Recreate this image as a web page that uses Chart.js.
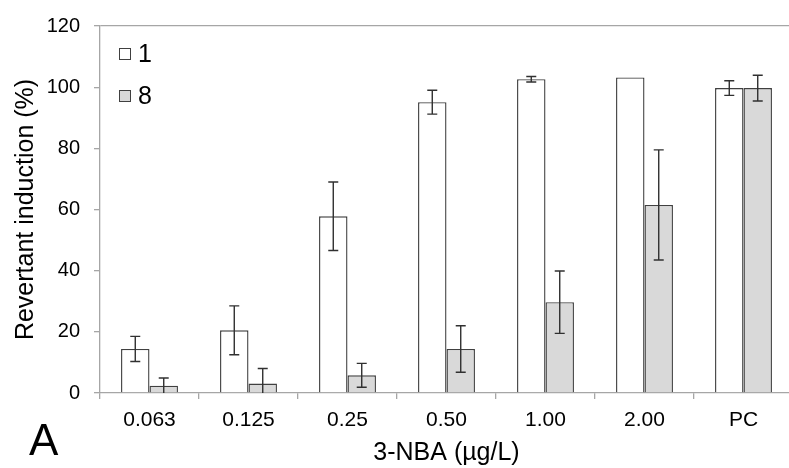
<!DOCTYPE html>
<html lang="en">
<head>
    <meta charset="UTF-8">
    <title>Revertant induction</title>
    <script src="https://cdn.jsdelivr.net/npm/chart.js"></script>
    <style>
        body {
            margin: 0;
            padding: 0;
            background-color: #ffffff;
            overflow: hidden;
        }
        #chart-box {
            width: 793px;
            height: 468px;
        }
    </style>
</head>
<body>
    <div id="chart-box">
        <canvas id="nba-chart" width="793" height="468"></canvas>
    </div>

    <script>
        // values
        const categories = ['0.063', '0.125', '0.25', '0.50', '1.00', '2.00', 'PC'];
        const seriesLabels = ['1', '8'];
        const values1 = [14.4, 20.5, 57.8, 95.1, 102.6, 103.2, 99.7];
        const errors1 = [4.1, 8.0, 11.2, 3.9, 0.9, 0, 2.4];
        const values8 = [2.4, 3.1, 5.8, 14.4, 29.7, 61.5, 99.7];
        const errors8 = [2.5, 4.9, 3.9, 7.6, 10.2, 18.0, 4.2];
        const yTicks = [0, 20, 40, 60, 80, 100, 120];

        const fontFamily = "'Liberation Sans', Arial, sans-serif";
        const axisGray = '#a6a6a6';
        const barEdge = '#404040';

        const errorBars = {
            id: 'errorBars',
            afterDatasetsDraw(chart) {
                const ctx = chart.ctx;
                const yScale = chart.scales.y;
                ctx.save();
                ctx.strokeStyle = '#303030';
                ctx.lineWidth = 1.4;
                chart.data.datasets.forEach((ds, di) => {
                    const meta = chart.getDatasetMeta(di);
                    meta.data.forEach((bar, i) => {
                        const err = ds.errors[i];
                        if (!err) return;
                        const v = ds.data[i];
                        const top = yScale.getPixelForValue(v + err);
                        const bottom = yScale.getPixelForValue(Math.max(v - err, 0));
                        ctx.beginPath();
                        ctx.moveTo(bar.x, top);
                        ctx.lineTo(bar.x, bottom);
                        ctx.moveTo(bar.x - 5, top);
                        ctx.lineTo(bar.x + 5, top);
                        if (v - err > 0) {
                            ctx.moveTo(bar.x - 5, bottom);
                            ctx.lineTo(bar.x + 5, bottom);
                        }
                        ctx.stroke();
                    });
                });
                ctx.restore();
            }
        };

        const insideLegend = {
            id: 'insideLegend',
            afterDraw(chart) {
                const ctx = chart.ctx;
                ctx.save();
                ctx.font = '25px ' + fontFamily;
                ctx.textBaseline = 'middle';
                chart.data.datasets.forEach((ds, di) => {
                    const y = 48 + di * 42;
                    ctx.fillStyle = ds.backgroundColor;
                    ctx.strokeStyle = barEdge;
                    ctx.lineWidth = 1;
                    ctx.fillRect(119.5, y + 0.5, 11, 11);
                    ctx.strokeRect(119.5, y + 0.5, 11, 11);
                    ctx.fillStyle = '#000000';
                    ctx.fillText(ds.label, 138, y + 7);
                });
                // panel letter
                ctx.font = '44px ' + fontFamily;
                ctx.textBaseline = 'alphabetic';
                ctx.fillText('A', 29, 455);
                ctx.restore();
            }
        };

        const ctx = document.getElementById('nba-chart').getContext('2d');
        new Chart(ctx, {
            type: 'bar',
            data: {
                labels: categories,
                datasets: [
                    {
                        label: seriesLabels[0],
                        data: values1,
                        errors: errors1,
                        backgroundColor: '#ffffff',
                        borderColor: barEdge,
                        borderWidth: 1.4
                    },
                    {
                        label: seriesLabels[1],
                        data: values8,
                        errors: errors8,
                        backgroundColor: '#d9d9d9',
                        borderColor: barEdge,
                        borderWidth: 1.4
                    }
                ]
            },
            options: {
                responsive: false,
                animation: false,
                categoryPercentage: 0.575,
                barPercentage: 1,
                layout: {
                    padding: { top: 22, right: 0, bottom: 0, left: 0 }
                },
                plugins: {
                    legend: { display: false },
                    tooltip: { enabled: false }
                },
                scales: {
                    x: {
                        afterFit: (scale) => { scale.height = 75; },
                        border: { color: axisGray, width: 1.3 },
                        grid: {
                            offset: true,
                            drawOnChartArea: false,
                            tickLength: 6,
                            tickColor: axisGray,
                            lineWidth: 1.3
                        },
                        ticks: {
                            color: '#000000',
                            padding: 9,
                            font: { family: fontFamily, size: 21 }
                        },
                        title: {
                            display: true,
                            text: '3-NBA (µg/L)',
                            color: '#000000',
                            padding: { top: 2, bottom: 0 },
                            font: { family: fontFamily, size: 25 }
                        }
                    },
                    y: {
                        min: 0,
                        max: 120,
                        afterFit: (scale) => { scale.width = 100; },
                        afterBuildTicks: (scale) => {
                            scale.ticks = yTicks.map(v => ({ value: v }));
                        },
                        border: { color: axisGray, width: 1.3 },
                        grid: {
                            color: (c) => c.tick && c.tick.value === 120 ? axisGray : 'rgba(0,0,0,0)',
                            tickColor: axisGray,
                            tickLength: 6,
                            lineWidth: 1.3
                        },
                        ticks: {
                            color: '#000000',
                            padding: 14,
                            font: { family: fontFamily, size: 20 }
                        },
                        title: {
                            display: true,
                            text: 'Revertant induction (%)',
                            color: '#000000',
                            padding: { top: 11, bottom: 0 },
                            font: { family: fontFamily, size: 25 }
                        }
                    }
                }
            },
            plugins: [errorBars, insideLegend]
        });
    </script>
</body>
</html>
